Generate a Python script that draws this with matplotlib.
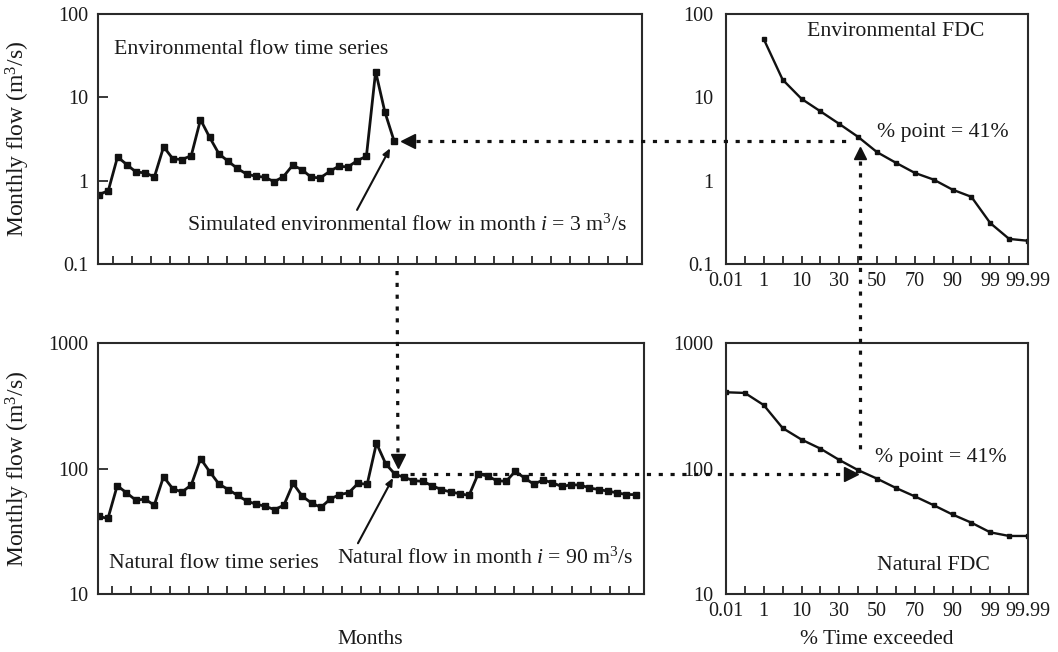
import numpy as np
import matplotlib
matplotlib.use("Agg")
import matplotlib.pyplot as plt
from matplotlib.lines import Line2D
from matplotlib import transforms as mtrans

# ---------------- data ----------------
env_flow = [0.68, 0.76, 1.93, 1.56, 1.27, 1.24, 1.11, 2.55, 1.83, 1.79, 2.0,
            5.4, 3.3, 2.1, 1.71, 1.40, 1.20, 1.13, 1.10, 0.97, 1.12, 1.53,
            1.36, 1.10, 1.08, 1.29, 1.49, 1.46, 1.74, 1.96, 20.4, 6.7, 3.0]
nat_flow = [41.5, 40, 73, 64, 56, 57, 51, 86, 69, 65,
            74, 120, 94, 75, 68, 61, 55, 52, 50, 47,
            51, 76, 60, 53, 49, 57, 62, 64, 76, 75,
            159, 109, 90, 85, 80, 79, 73, 68, 65, 63,
            61, 91, 87, 80, 79, 95, 84, 75, 81, 77,
            72, 74, 74, 70, 68, 66, 64, 62, 62]
month_i = 32
env_month_i = 3.0
nat_month_i = 90.0
pct_point = 41

# exceedance-probability axis knots (plotting positions)
fdc_knots_pct = [0.01, 0.1, 1, 5, 10, 20, 30, 40, 50, 60, 70, 80, 90, 95, 99, 99.9, 99.99]
env_fdc_pct = [1, 5, 10, 20, 30, 40, 50, 60, 70, 80, 90, 95, 99, 99.9, 99.99]
env_fdc_flow = [50, 16.3, 9.6, 6.8, 4.8, 3.35, 2.2, 1.64, 1.24, 1.03, 0.78, 0.64, 0.31, 0.20, 0.19]
nat_fdc_pct = [0.01, 0.1, 1, 5, 10, 20, 30, 40, 50, 60, 70, 80, 90, 95, 99, 99.9, 99.99]
nat_fdc_flow = [405, 400, 320, 210, 170, 144, 117, 97, 83, 70, 60, 51, 43, 37, 31, 29, 29]
pct_tick_vals = [0.01, 1, 10, 30, 50, 70, 90, 99, 99.99]
pct_tick_labels = ["0.01", "1", "10", "30", "50", "70", "90", "99", "99.99"]
pct_minor = [0.1, 5, 20, 40, 60, 80, 95, 99.9]

top_yticks = [0.1, 1, 10, 100]
top_ylabels = ["0.1", "1", "10", "100"]
bot_yticks = [10, 100, 1000]
bot_ylabels = ["10", "100", "1000"]

# ---------------- style ----------------
plt.rcParams['font.family'] = ['Liberation Serif', 'DejaVu Serif']
plt.rcParams['mathtext.fontset'] = 'custom'
plt.rcParams['mathtext.rm'] = 'Liberation Serif'
plt.rcParams['mathtext.it'] = 'Liberation Serif:italic'
TXT = '#1a1a1a'
LINE = '#111111'
SPINE = '#2a2a2a'
FS = 15.7
TFS = 14.5
LFS = 17
XFS = 15.5

fig = plt.figure(figsize=(10.58, 6.52), dpi=100)
W, H = 1058, 652


def axes_px(x0, x1, y0, y1):
    return fig.add_axes([x0 / W, (H - y1) / H, (x1 - x0) / W, (y1 - y0) / H])


ax_tl = axes_px(98, 642, 14, 264)
ax_bl = axes_px(97.6, 644, 343, 594)
ax_tr = axes_px(726, 1028, 14, 264)
ax_br = axes_px(726, 1028, 343, 594)

knots_pos = np.arange(len(fdc_knots_pct)) * 0.5
fwd = lambda p: np.interp(p, fdc_knots_pct, knots_pos)
inv = lambda q: np.interp(q, knots_pos, fdc_knots_pct)

for ax in (ax_tl, ax_bl, ax_tr, ax_br):
    for s in ax.spines.values():
        s.set_linewidth(1.5)
        s.set_color(SPINE)
    ax.set_yscale('log')
    ax.minorticks_off()
    ax.tick_params(axis='both', which='both', direction='in', colors=SPINE,
                   labelcolor=TXT, labelsize=TFS, width=1.3)

months = np.arange(len(nat_flow))
month_ticks = np.linspace(1.46, 57.27, 28)

# Time series panels
ax_tl.plot(months[:len(env_flow)], env_flow, color=LINE, lw=2.0, marker='s', ms=4.6,
           solid_joinstyle='miter')
ax_bl.plot(months, nat_flow, color=LINE, lw=2.0, marker='s', ms=4.6,
           solid_joinstyle='miter')
for ax in (ax_tl, ax_bl):
    ax.set_xlim(-0.12, 58.9)
    ax.set_xticks(month_ticks)
    ax.set_xticklabels([])
    ax.tick_params(axis='x', length=5.5)
    ax.tick_params(axis='y', length=7, pad=7)
ax_tl.set_ylim(0.1, 100)
ax_tl.set_yticks(top_yticks)
ax_tl.set_yticklabels(top_ylabels)
ax_tl.minorticks_off()
ax_bl.set_ylim(10, 1000)
ax_bl.set_yticks(bot_yticks)
ax_bl.set_yticklabels(bot_ylabels)
ax_bl.minorticks_off()

# FDC panels
for ax in (ax_tr, ax_br):
    ax.set_xscale('function', functions=(fwd, inv))
    ax.set_xlim(0.01, 99.99)
ax_tr.plot(env_fdc_pct, env_fdc_flow, color=LINE, lw=1.7, marker='s', ms=3.3)
ax_br.plot(nat_fdc_pct, nat_fdc_flow, color=LINE, lw=1.7, marker='s', ms=3.3)
ax_tr.set_ylim(0.1, 100)
ax_tr.set_yticks(top_yticks)
ax_tr.set_yticklabels(top_ylabels)
ax_br.set_ylim(10, 1000)
ax_br.set_yticks(bot_yticks)
ax_br.set_yticklabels(bot_ylabels)
for ax in (ax_tr, ax_br):
    ax.minorticks_off()
    ax.set_xticks(pct_tick_vals)
    ax.set_xticklabels(pct_tick_labels)
    ax.set_xticks(pct_minor, minor=True)
    ax.tick_params(axis='x', which='both', length=5.5, pad=6)
    ax.tick_params(axis='y', length=0, pad=9)

# Texts
ax_tl.text(0.030, 0.856, "Environmental flow time series", transform=ax_tl.transAxes,
           fontsize=FS, color=TXT, va='center', ha='left')
ax_tl.text(0.1645, 0.156, "Simulated environmental flow in month $i$ = 3 m$^3$/s",
           transform=ax_tl.transAxes, fontsize=FS, color=TXT, va='center', ha='left')
ax_bl.text(0.020, 0.1235, "Natural flow time series", transform=ax_bl.transAxes,
           fontsize=FS, color=TXT, va='center', ha='left')
ax_bl.text(0.4376, 0.1434, "Natural flow in month $i$ = 90 m$^3$/s",
           transform=ax_bl.transAxes, fontsize=FS, color=TXT, va='center', ha='left')
ax_tr.text(0.267, 0.929, "Environmental FDC", transform=ax_tr.transAxes,
           fontsize=FS, color=TXT, va='center', ha='left')
ax_tr.text(0.499, 0.524, "% point = 41%", transform=ax_tr.transAxes,
           fontsize=FS, color=TXT, va='center', ha='left')
ax_br.text(0.493, 0.543, "% point = 41%", transform=ax_br.transAxes,
           fontsize=FS, color=TXT, va='center', ha='left')
ax_br.text(0.499, 0.1116, "Natural FDC", transform=ax_br.transAxes,
           fontsize=FS, color=TXT, va='center', ha='left')

ax_tl.set_ylabel("Monthly flow (m$^3$/s)", fontsize=LFS, color=TXT)
ax_tl.yaxis.set_label_coords((31.7 - 98) / 544, 0.5)
ax_bl.set_ylabel("Monthly flow (m$^3$/s)", fontsize=LFS, color=TXT)
ax_bl.yaxis.set_label_coords((31.7 - 97.6) / 546.4, 0.5)

fig.text(370 / W, (H - 640) / H, "Months", fontsize=XFS, color=TXT, ha='center', va='center')
fig.text(877 / W, (H - 640) / H, "% Time exceeded", fontsize=XFS, color=TXT, ha='center', va='center')

# Annotation arrows
ax_tl.annotate("", xy=(month_i, env_month_i), xycoords='data',
               xytext=(-37, -69), textcoords='offset pixels',
               arrowprops=dict(arrowstyle='-|>,head_length=0.45,head_width=0.2', color=LINE,
                               lw=1.5, shrinkA=0, shrinkB=6))
ax_bl.annotate("", xy=(month_i, nat_month_i), xycoords='data',
               xytext=(-37, -69), textcoords='offset pixels',
               arrowprops=dict(arrowstyle='-|>,head_length=0.45,head_width=0.2', color=LINE,
                               lw=1.5, shrinkA=0, shrinkB=3))

# Connector dotted lines (figure level, pixel coords)
ident = mtrans.IdentityTransform()
DOT = (0, (1.3, 2.4))


def px(ax, x, y):
    return ax.transData.transform((x, y))


def seg(p0, p1):
    fig.add_artist(Line2D([p0[0], p1[0]], [p0[1], p1[1]], transform=ident, color=LINE,
                          lw=2.3, linestyle=DOT, dash_capstyle='butt'))


def tri(p, m, ms):
    fig.add_artist(Line2D([p[0]], [p[1]], transform=ident, marker=m, ms=ms, color=LINE,
                          linestyle='none'))


P1 = px(ax_tl, month_i, env_month_i)
P2 = px(ax_tr, pct_point, env_month_i)
P3 = px(ax_br, pct_point, nat_month_i)
P4 = px(ax_bl, month_i, nat_month_i)
Pb = px(ax_tl, month_i, 0.1)

seg(P1 + [22, 0], P2 + [-7, 0])
tri(P1 + [14, 0], '<', 10)
seg(P2 + [0, -20], P3 + [0, 24])
tri(P2 + [0, -12], '^', 9)
seg(P4 + [15, 0], P3 + [-18, 0])
tri(P3 + [-9, 0], '>', 10)
seg(Pb + [3, -7], P4 + [3, 21])
tri(P4 + [3, 13], 'v', 10)

fig.savefig("out.png", dpi=100)
